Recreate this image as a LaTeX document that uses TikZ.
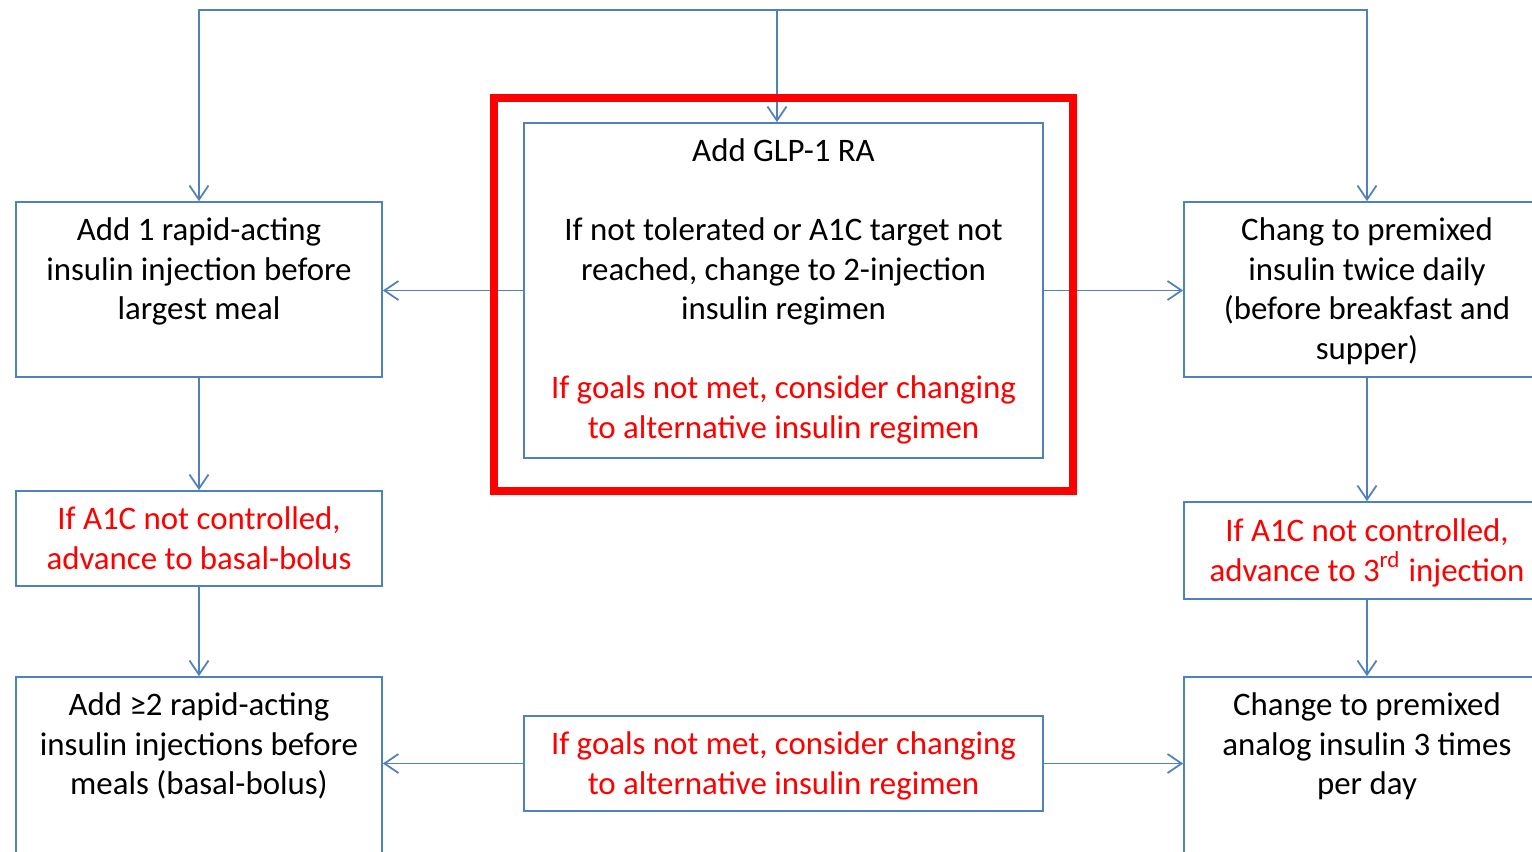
\documentclass[tikz,border=0pt]{standalone}
\usepackage{fontspec}
\setmainfont{Carlito}
\usetikzlibrary{arrows.meta,positioning}
\definecolor{lineblue}{RGB}{79,129,189}
\definecolor{alertred}{RGB}{255,0,0}
\begin{document}
\begin{tikzpicture}[>={Straight Barb[length=1.4mm,width=1.9mm]},line width=0.5pt,
  box/.style={draw=lineblue,rectangle,minimum width=3.66cm,inner sep=0},
  txt/.style={inner sep=0,align=center,font=\fontsize{9.35pt}{11.24pt}\selectfont},
  redtxt/.style={txt,text=alertred}]

  \useasboundingbox (0,0) rectangle (15.32,-8.51);
  \clip (0,0) rectangle (15.32,-8.51);

  \node[box,minimum height=1.75cm] (l1) at (1.99,-2.895) {};
  \node[box,minimum height=0.95cm] (l2) at (1.99,-5.385) {};
  \node[box,minimum height=2.6cm] (l3) at (1.99,-8.07) {};
  \node[box,minimum width=5.19cm,minimum height=3.35cm] (glp) at (7.835,-2.905) {};
  \node[box,minimum width=5.19cm,minimum height=0.95cm] (alt) at (7.835,-7.635) {};
  \node[box,minimum height=1.75cm] (r1) at (13.67,-2.895) {};
  \node[box,minimum height=0.97cm] (r2) at (13.67,-5.505) {};
  \node[box,minimum height=2.6cm] (r3) at (13.67,-8.07) {};
  \coordinate (top) at (7.77,-0.10);

  \node[txt,below=0.11cm of l1.north] (l1t) {\strut Add 1 rapid-acting\\insulin injection before\\largest meal};
  \node[redtxt,below=0.11cm of l2.north] (l2t) {\strut If A1C not controlled,\\advance to basal-bolus};
  \node[txt,below=0.11cm of l3.north] (l3t) {\strut Add ≥2 rapid-acting\\insulin injections before\\meals (basal-bolus)};
  \node[txt,below=0.11cm of glp.north] (glpt) {\strut Add GLP-1 RA\\[11.24pt]If not tolerated or A1C target not\\reached, change to 2-injection\\insulin regimen\\[11.24pt]\textcolor{alertred}{If goals not met, consider changing}\\\textcolor{alertred}{to alternative insulin regimen}};
  \node[redtxt,below=0.11cm of alt.north] (altt) {\strut If goals not met, consider changing\\to alternative insulin regimen};
  \node[txt,below=0.11cm of r1.north] (r1t) {\strut Chang to premixed\\insulin twice daily\\(before breakfast and\\supper)};
  \node[redtxt,below=0.12cm of r2.north] (r2t) {\strut If A1C not controlled,\\advance to 3\smash{\textsuperscript{rd}} injection};
  \node[txt,below=0.11cm of r3.north] (r3t) {\strut Change to premixed\\analog insulin 3 times\\per day};

  \draw[->,lineblue] (top) -| (l1.north);
  \draw[->,lineblue] (top) -| (r1.north);
  \draw[->,lineblue] (top) -- (top |- glp.north);
  \draw[->,lineblue] (glp.west) -- (glp.west -| l1.east);
  \draw[->,lineblue] (glp.east) -- (glp.east -| r1.west);
  \draw[->,lineblue] (l1) -- (l2);
  \draw[->,lineblue] (l2) -- (l3);
  \draw[->,lineblue] (r1) -- (r2);
  \draw[->,lineblue] (r2) -- (r3);
  \draw[->,lineblue] (alt.west) -- (alt.west -| l3.east);
  \draw[->,lineblue] (alt.east) -- (alt.east -| r3.west);

  \draw[draw=alertred,line width=2.3pt] ([xshift=-0.295cm,yshift=0.245cm]glp.north west) rectangle ([xshift=0.295cm,yshift=-0.325cm]glp.south east);

\end{tikzpicture}
\end{document}
